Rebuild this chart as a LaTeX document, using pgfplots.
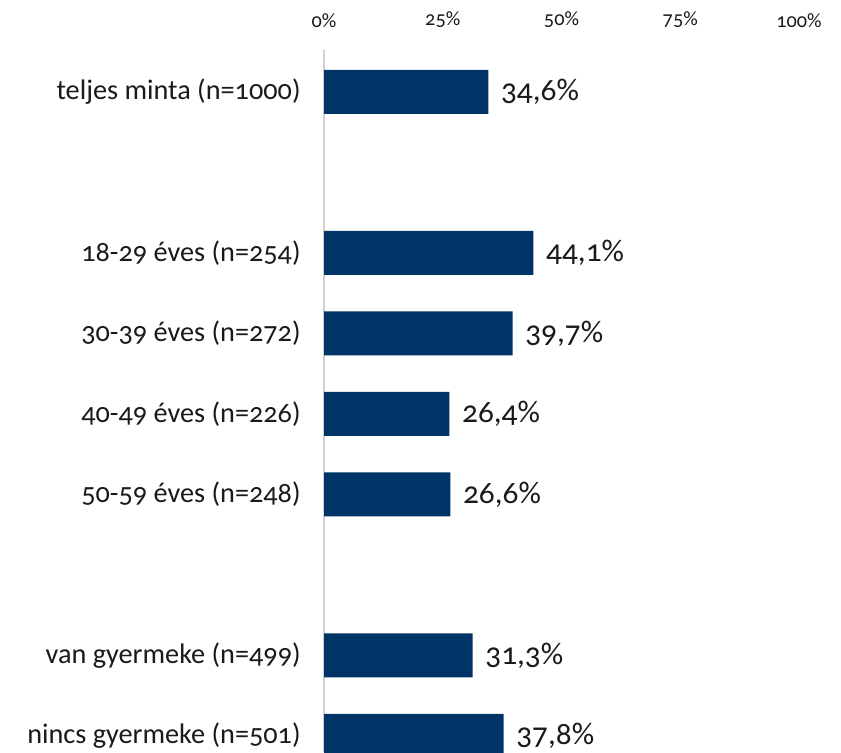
\documentclass[border=0pt]{standalone}
\usepackage{pgfplots}
\pgfplotsset{compat=1.18}
\usepackage{fontspec}
\setmainfont{Carlito}[Numbers=OldStyle]
\definecolor{navy}{RGB}{0,52,102}
\definecolor{txt}{RGB}{26,26,26}
\begin{document}
\begin{tikzpicture}[x=0.75pt,y=0.75pt]
\useasboundingbox (0,0) rectangle (841,752);
\begin{axis}[
  at={(324*0.75pt,0pt)}, anchor=south west,
  scale only axis, width=356.25pt, height=526.5pt,
  xbar, bar width=33pt,
  xmin=0, xmax=100, ymin=-0.52, ymax=8.2,
  y dir=reverse,
  axis x line*=top, axis y line*=left,
  x axis line style={draw=none},
  y axis line style={draw=black!18, line width=0.8pt},
  major tick length=0pt,
  xtick={0,25,50,75,100},
  xticklabels={0\%,25\%,50\%,75\%,100\%},
  xticklabel style={font=\fontsize{15.2}{17}\selectfont, text=txt, yshift=13pt},
  ytick={0,2,3,4,5,7,8},
  yticklabels={teljes minta (n=1000),18-29 éves (n=254),30-39 éves (n=272),40-49 éves (n=226),50-59 éves (n=248),van gyermeke (n=499),nincs gyermeke (n=501)},
  yticklabel style={font=\fontsize{21.2}{23}\selectfont, text=txt, xshift=-14pt},
  /pgf/number format/assume math mode=true,
  nodes near coords={\pgfmathprintnumber[use comma,fixed,fixed zerofill,precision=1]{\pgfplotspointmeta}\%},
  nodes near coords style={font=\fontsize{23.5}{25}\selectfont, text=txt, anchor=west, xshift=6pt, yshift=0pt},
  clip=true,
]
\addplot[fill=navy, draw=none] coordinates {(34.6,0) (44.1,2) (39.7,3) (26.4,4) (26.6,5) (31.3,7) (37.8,8)};
\end{axis}
\end{tikzpicture}
\end{document}
